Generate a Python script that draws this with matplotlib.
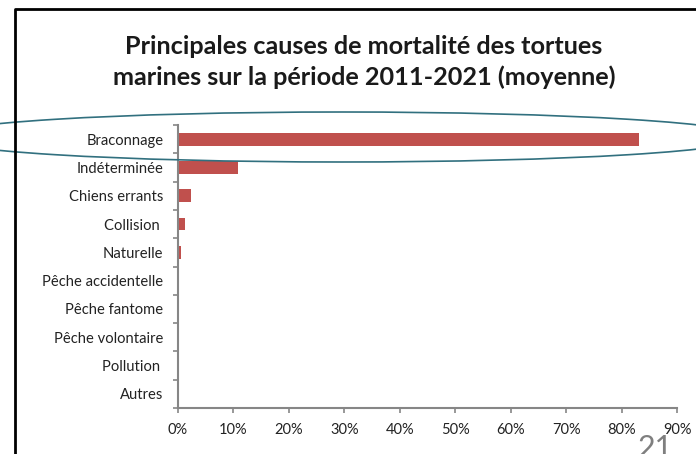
import matplotlib.pyplot as plt
import numpy as np
from matplotlib.patches import Ellipse

plt.rcParams['font.family'] = ['Lato', 'DejaVu Sans']

causes = ['Braconnage', 'Indéterminée', 'Chiens errants', 'Collision ', 'Naturelle',
          'Pêche accidentelle', 'Pêche fantome', 'Pêche volontaire', 'Pollution ', 'Autres']
pct = [83.2, 10.9, 2.3, 1.2, 0.6, 0.0, 0.0, 0.0, 0.0, 0.0]
xticks = [0, 10, 20, 30, 40, 50, 60, 70, 80, 90]

W, H = 696, 454
fig = plt.figure(figsize=(W / 100, H / 100), dpi=100)
ax = fig.add_axes([178 / W, 1 - 408 / H, (677 - 178) / W, (408 - 125) / H])

y = np.arange(len(causes))
ax.barh(y, pct, height=0.45, color='#C0504D')
ax.set_ylim(len(causes) - 0.5, -0.5)
ax.set_xlim(0, 90)

# category ticks between rows, like excel
ax.set_yticks(np.arange(-0.5, len(causes), 1.0))
ax.set_yticklabels([])
ax.set_yticks(y, minor=True)
ax.set_yticklabels(causes, minor=True, fontsize=10.6, color='#222222')
ax.tick_params(axis='y', which='minor', length=0, pad=10.5)
ax.tick_params(axis='y', which='major', length=3.6, color='#868686', width=1.2)
ax.set_xticks(xticks)
ax.set_xticklabels(['%d%%' % v for v in xticks], fontsize=10.5, color='#222222')
ax.tick_params(axis='x', length=3.6, color='#868686', width=1.2, pad=7)

for s in ['top', 'right']:
    ax.spines[s].set_visible(False)
for s in ['left', 'bottom']:
    ax.spines[s].set_color('#868686')
    ax.spines[s].set_linewidth(1.5)

# title
fig.text(364 / W, 1 - 47 / H, 'Principales causes de mortalité des tortues',
         ha='center', va='center', fontsize=18.2, fontweight='bold', color='#1a1a1a')
fig.text(364 / W, 1 - 77 / H, 'marines sur la période 2011-2021 (moyenne)',
         ha='center', va='center', fontsize=18.2, fontweight='bold', color='#1a1a1a')

# chart frame (slide box)
ov = fig.add_axes([0, 0, 1, 1], facecolor='none')
ov.set_xlim(0, W)
ov.set_ylim(H, 0)
ov.axis('off')
ov.plot([15, 15, W + 5], [H + 5, 9, 9], color='black', lw=2)

# highlight ellipse
ov.add_patch(Ellipse((342, 137), 812, 50, angle=0, fill=False,
                     edgecolor='#31707F', lw=1.2))

# slide number, cut at the bottom edge as in the slide
ov.text(655, 462, '21', fontsize=22, color='#7f7f7f', ha='center', va='bottom')

fig.savefig('out.png', dpi=100)
